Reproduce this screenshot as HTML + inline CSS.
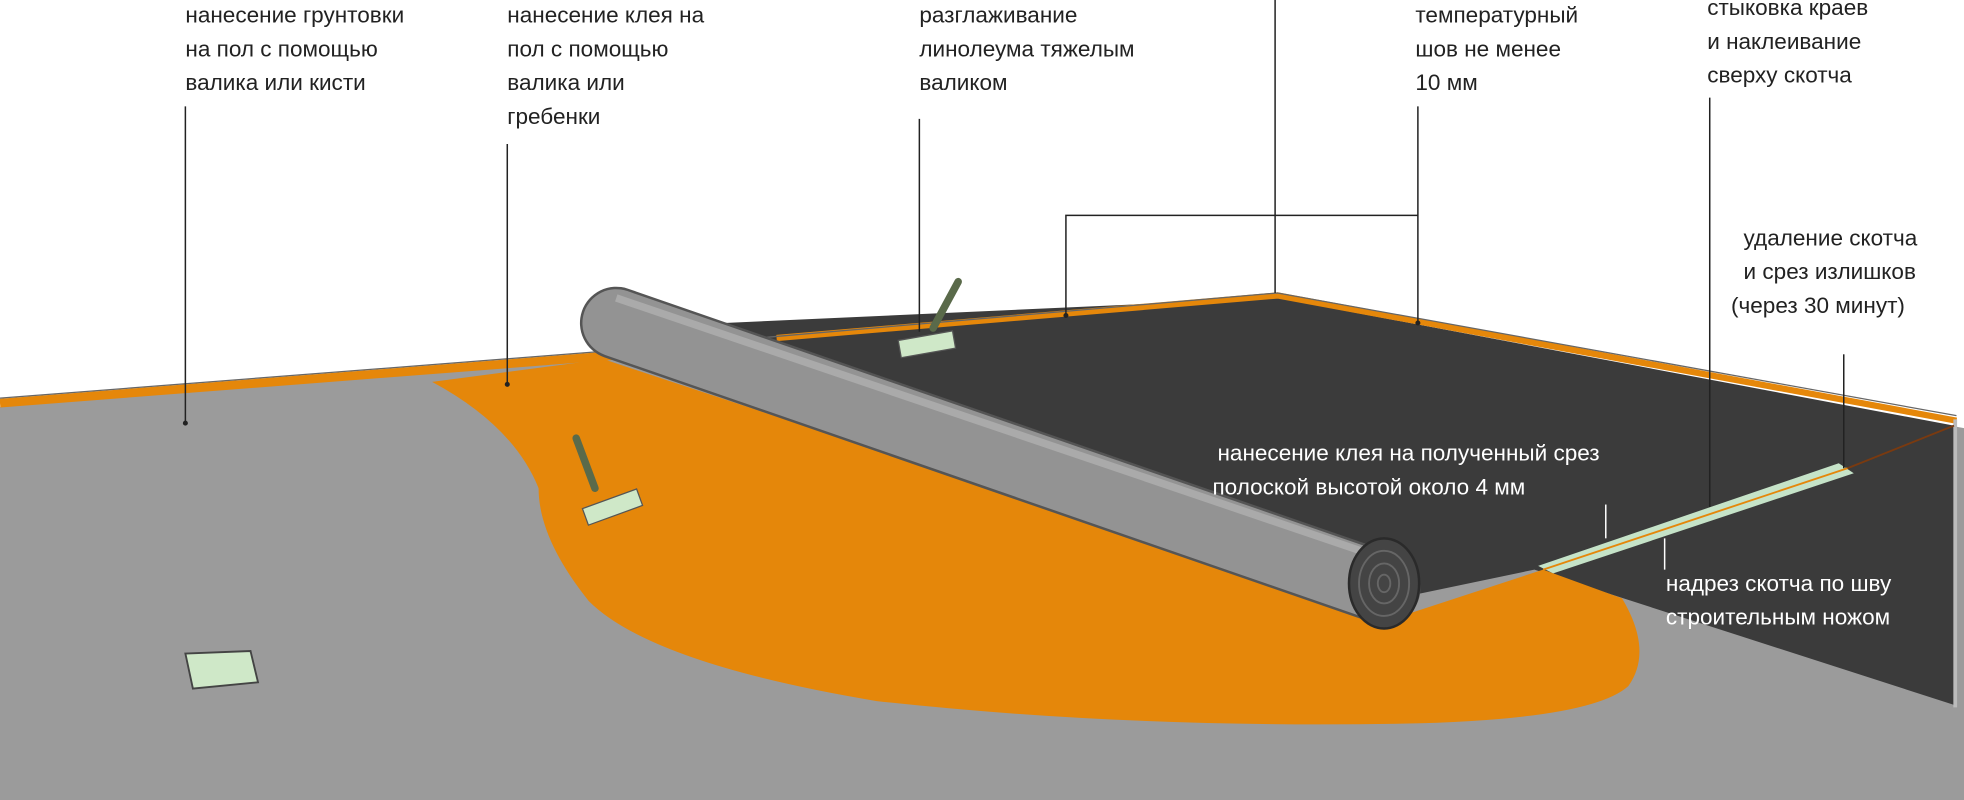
<!DOCTYPE html>
<html><head><meta charset="utf-8"><style>
html,body{margin:0;padding:0;background:#fff;width:1964px;height:800px;overflow:hidden}
svg{display:block}
text{font-family:"Liberation Sans",sans-serif;font-size:18px;fill:#222}
.w{fill:#fff}
</style></head><body>
<svg width="1964" height="800" viewBox="0 0 1568 639" preserveAspectRatio="none">
<rect width="1568" height="639" fill="#fff"/>
<!-- floor gray -->
<polygon points="0,325 490,286 1020,240 1568,342 1568,639 0,639" fill="#9b9b9b"/>
<!-- dark linoleum -->
<polygon points="490,262 1020,238 1560,340 1560,563 1225,455 1115,478" fill="#3b3b3b"/>
<!-- glue -->
<path d="M345,305 L482,287 L1110,495 L1232,455 L1295,478 Q1320,520 1300,548 Q1270,575 1120,578 Q900,582 700,560 Q520,530 470,480 Q430,430 430,390 Q410,340 345,305 Z" fill="#e5870a"/>
<!-- baseboard orange -->
<polyline points="0,322 490,284" stroke="#e5870a" stroke-width="7" fill="none"/>
<polyline points="620,270 1020,236 1562,336" stroke="#e5870a" stroke-width="5" fill="none"/>
<polyline points="0,318 490,280 1020,234 1562,332" stroke="#666" stroke-width="1" fill="none"/>
<line x1="1561" y1="335" x2="1561" y2="565" stroke="#bbb" stroke-width="3"/>
<!-- roll -->
<line x1="492" y1="258" x2="1105" y2="470" stroke="#555" stroke-width="58" stroke-linecap="round"/>
<line x1="492" y1="258" x2="1105" y2="470" stroke="#939393" stroke-width="54" stroke-linecap="round"/>
<line x1="492" y1="238" x2="1110" y2="448" stroke="#aaa" stroke-width="6"/>
<ellipse cx="1105" cy="466" rx="28" ry="36" fill="#444" stroke="#2a2a2a" stroke-width="2"/>
<ellipse cx="1105" cy="466" rx="20" ry="26" fill="none" stroke="#666" stroke-width="1.5"/>
<ellipse cx="1105" cy="466" rx="12" ry="16" fill="none" stroke="#666" stroke-width="1.5"/>
<ellipse cx="1105" cy="466" rx="5" ry="7" fill="none" stroke="#666" stroke-width="1.5"/>
<!-- tape -->
<polygon points="1228,452 1468,370 1480,378 1240,458" fill="#c5e3c8"/>
<line x1="1232" y1="455" x2="1475" y2="374" stroke="#e5870a" stroke-width="1.5"/>
<line x1="1475" y1="374" x2="1560" y2="340" stroke="#7a3a10" stroke-width="1.5"/>
<!-- tools -->
<line x1="765" y1="225" x2="745" y2="262" stroke="#5a6a4a" stroke-width="6" stroke-linecap="round"/>
<rect x="718" y="268" width="44" height="14" transform="rotate(-10 740 275)" fill="#cfe8c8" stroke="#555"/>
<line x1="460" y1="350" x2="475" y2="390" stroke="#5a6a4a" stroke-width="6" stroke-linecap="round"/>
<rect x="466" y="398" width="46" height="14" transform="rotate(-20 489 405)" fill="#cfe8c8" stroke="#555"/>
<polygon points="148,522 200,520 206,545 154,550" fill="#cfe8c8" stroke="#444" stroke-width="1.5"/>
<!-- leader lines -->
<g stroke="#222" stroke-width="1.2" fill="none">
<line x1="148" y1="85" x2="148" y2="338"/>
<line x1="405" y1="115" x2="405" y2="307"/>
<line x1="734" y1="95" x2="734" y2="265"/>
<line x1="1018" y1="0" x2="1018" y2="234"/>
<polyline points="851,252 851,172 1132,172"/>
<line x1="1132" y1="85" x2="1132" y2="258"/>
<line x1="1365" y1="78" x2="1365" y2="405"/>
<line x1="1472" y1="283" x2="1472" y2="374"/>
</g>
<g stroke="#fff" stroke-width="1.2"><line x1="1282" y1="403" x2="1282" y2="430"/><line x1="1329" y1="430" x2="1329" y2="455"/></g>
<g fill="#222"><circle cx="148" cy="338" r="2"/><circle cx="405" cy="307" r="2"/><circle cx="851" cy="252" r="2"/><circle cx="1132" cy="258" r="2"/></g>
<!-- labels -->
<text x="148" y="18">нанесение грунтовки</text>
<text x="148" y="45">на пол с помощью</text>
<text x="148" y="72">валика или кисти</text>
<text x="405" y="18">нанесение клея на</text>
<text x="405" y="45">пол с помощью</text>
<text x="405" y="72">валика или</text>
<text x="405" y="99">гребенки</text>
<text x="734" y="18">разглаживание</text>
<text x="734" y="45">линолеума тяжелым</text>
<text x="734" y="72">валиком</text>
<text x="1130" y="18">температурный</text>
<text x="1130" y="45">шов не менее</text>
<text x="1130" y="72">10 мм</text>
<text x="1363" y="12">стыковка краев</text>
<text x="1363" y="39">и наклеивание</text>
<text x="1363" y="66">сверху скотча</text>
<text x="1392" y="196">удаление скотча</text>
<text x="1392" y="223">и срез излишков</text>
<text x="1382" y="250">(через 30 минут)</text>
<text class="w" x="972" y="368">нанесение клея  на полученный срез</text>
<text class="w" x="968" y="395">полоской высотой около 4 мм</text>
<text class="w" x="1330" y="472">надрез скотча по шву</text>
<text class="w" x="1330" y="499">строительным ножом</text>
</svg>
</body></html>
